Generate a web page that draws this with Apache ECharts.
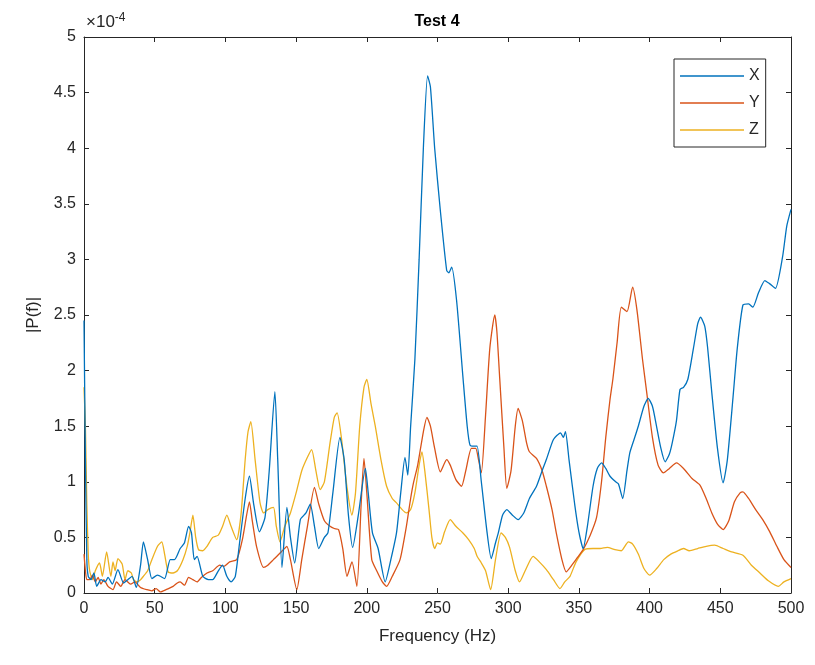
<!DOCTYPE html>
<html>
<head>
<meta charset="utf-8">
<script src="https://cdn.jsdelivr.net/npm/echarts@6/dist/echarts.min.js"></script>
<style>html,body{margin:0;padding:0;background:#fff;}#c{width:815px;height:665px;}</style>
</head>
<body>
<div id="c"></div>
<script>
// Values in units of 1e-4 ([frequency Hz, |P(f)| x 1e4])
const seriesNames = ['X', 'Y', 'Z'];
const xTicks = [0, 50, 100, 150, 200, 250, 300, 350, 400, 450, 500];
const yTicks = [0, 0.5, 1, 1.5, 2, 2.5, 3, 3.5, 4, 4.5, 5];

const dataX = [[0,2.45],[1,1.2],[2,0.3],[3,0.15],[5,0.12],[7,0.18],[9,0.06],[12,0.12],[15,0.1],[17,0.14],[20,0.08],[24,0.21],[28,0.09],[31,0.12],[34,0.15],[37,0.05],[40,0.25],[42,0.46],[45,0.3],[48,0.13],[52,0.16],[57,0.13],[61,0.3],[64,0.3],[68,0.4],[71,0.45],[74,0.6],[76,0.54],[78,0.3],[80,0.33],[84,0.15],[88,0.12],[91,0.12],[95,0.2],[98,0.25],[101,0.15],[104,0.1],[107,0.15],[110,0.45],[114,0.85],[117,1.05],[120,0.8],[124,0.55],[128,0.68],[131,1.1],[135,1.81],[137,1.2],[140,0.23],[143.5,0.77],[146,0.5],[149,0.27],[153,0.66],[157,0.72],[160,0.8],[163,0.6],[166,0.4],[170,0.5],[172.5,0.54],[176,0.9],[181,1.4],[184,1.2],[187,0.7],[190,0.41],[194,0.7],[199,1.12],[201,0.9],[204,0.54],[208,0.4],[213,0.1],[217,0.3],[221,0.54],[224,0.9],[227,1.22],[229,1.06],[231,1.5],[234,2.1],[237,3.0],[240,4.0],[243,4.65],[245,4.55],[248,4.0],[252,3.44],[256.5,2.9],[258,2.88],[260,2.93],[263.5,2.63],[268,1.94],[271,1.5],[273,1.33],[276,1.32],[278,1.32],[281,1.0],[285,0.55],[288,0.31],[291,0.45],[293,0.54],[296,0.7],[299,0.75],[303,0.7],[307,0.66],[311,0.72],[315,0.85],[320,0.96],[324,1.1],[327,1.2],[332,1.38],[337,1.44],[339,1.4],[340.5,1.45],[343,1.2],[347,0.8],[350,0.55],[353,0.4],[356,0.6],[360,0.96],[363,1.12],[366,1.17],[369,1.12],[372,1.05],[376,1.0],[378,0.98],[381,0.85],[384,1.1],[386,1.26],[389,1.38],[392,1.5],[396,1.68],[399,1.75],[402,1.68],[404,1.56],[408,1.3],[411,1.18],[414,1.25],[416,1.35],[419,1.55],[421.5,1.83],[424,1.85],[427,1.92],[431,2.2],[434,2.42],[436,2.48],[439,2.4],[441,2.21],[444,1.8],[448,1.3],[452,0.99],[455,1.2],[459,1.76],[462,2.2],[466,2.59],[470,2.6],[473,2.57],[477,2.7],[481.5,2.81],[485,2.78],[489,2.74],[494,3.02],[497,3.3],[500,3.45]];

const dataY = [[0,0.35],[1,0.2],[2,0.12],[4,0.12],[6,0.16],[8,0.1],[10,0.14],[12,0.08],[14,0.12],[17,0.06],[20.5,0.03],[23,0.1],[26,0.06],[29,0.12],[33,0.08],[36,0.1],[40,0.05],[44.5,0.03],[48,0.02],[51,0.04],[54,0.01],[58,0.03],[63,0.06],[66,0.09],[68,0.1],[71,0.07],[74,0.14],[77,0.12],[80,0.1],[83,0.14],[87,0.18],[91,0.2],[96,0.25],[99,0.24],[103,0.28],[108,0.3],[112,0.48],[115,0.7],[117,0.82],[119,0.65],[122,0.42],[127,0.23],[130,0.25],[134,0.3],[138,0.35],[141,0.39],[143.5,0.42],[146,0.3],[150.5,0.03],[154,0.3],[158,0.6],[163,0.95],[166,0.8],[170,0.65],[174,0.6],[177,0.58],[180,0.57],[183,0.4],[186,0.15],[189.5,0.28],[193,0.06],[196,0.8],[198,1.21],[200,0.9],[203.5,0.3],[207,0.2],[211,0.1],[214,0.06],[218,0.15],[223.5,0.3],[228,0.6],[231,0.85],[233,0.99],[236,1.15],[240,1.45],[242.5,1.58],[245,1.5],[248,1.3],[252,1.09],[256.5,1.2],[259,1.15],[263,1.02],[267,0.96],[270,1.1],[274,1.3],[277,1.3],[279,1.2],[281,1.08],[284,1.6],[287,2.2],[290.5,2.5],[292,2.35],[294,1.93],[297,1.3],[299,0.94],[302,1.1],[305,1.5],[307,1.66],[310,1.55],[313,1.35],[315,1.27],[320,1.21],[324,1.1],[327,0.96],[331,0.75],[334,0.54],[338,0.3],[341,0.19],[345,0.25],[349,0.32],[353,0.39],[358,0.52],[362.5,0.68],[366,1.0],[369,1.4],[372,1.74],[374,1.92],[377,2.25],[380,2.57],[384,2.53],[388,2.75],[391,2.55],[395,2.1],[398,1.8],[402,1.4],[406,1.15],[409.7,1.08],[414,1.12],[419,1.17],[424,1.12],[430,1.03],[435.6,0.97],[440,0.85],[444,0.72],[448,0.62],[452,0.57],[456,0.65],[460,0.82],[464,0.9],[466,0.91],[470,0.85],[475,0.75],[480,0.66],[485,0.55],[490,0.42],[495,0.3],[500,0.23]];

const dataZ = [[0,1.85],[1,1.5],[2,0.8],[3,0.35],[4,0.2],[6,0.12],[8,0.2],[11,0.27],[13,0.15],[16,0.37],[19,0.15],[20.5,0.28],[22,0.2],[24,0.31],[27,0.26],[29,0.12],[31,0.2],[33.5,0.18],[35,0.12],[37.5,0.1],[40,0.12],[42,0.15],[45,0.2],[48,0.3],[52,0.42],[55,0.46],[57,0.35],[59.5,0.19],[63,0.18],[66,0.2],[70,0.3],[73,0.42],[75,0.55],[77,0.7],[79,0.5],[81,0.39],[84,0.38],[87,0.42],[91,0.5],[95,0.52],[98,0.6],[101,0.7],[104,0.6],[108,0.48],[111,0.7],[114,1.2],[116,1.45],[118,1.54],[121,1.2],[124.5,0.81],[127,0.72],[130,0.75],[134,0.77],[136,0.6],[138.6,0.46],[142,0.6],[146,0.72],[150,0.9],[154,1.1],[158,1.22],[161,1.29],[164,1.1],[167,0.93],[170,1.0],[174,1.35],[177,1.58],[179,1.62],[182,1.4],[186,0.95],[189.5,0.7],[192,0.9],[195,1.5],[198,1.85],[200,1.92],[203,1.7],[206,1.5],[210,1.2],[214,0.96],[218,0.85],[221,0.81],[225,0.75],[228,0.72],[231,0.75],[234,0.9],[237,1.15],[239,1.27],[241,1.1],[244,0.75],[246,0.5],[248,0.4],[250,0.45],[252,0.44],[255,0.55],[259,0.66],[263,0.6],[268,0.54],[272,0.48],[276,0.4],[278,0.33],[281,0.27],[284,0.2],[287.6,0.03],[291,0.3],[295,0.54],[298,0.5],[301,0.41],[305,0.2],[308,0.1],[312,0.2],[317.6,0.33],[322,0.28],[327,0.21],[332,0.12],[336.6,0.04],[340,0.1],[343.7,0.15],[348,0.28],[354,0.39],[360,0.4],[365,0.4],[370,0.41],[375.5,0.39],[380,0.38],[385,0.46],[388,0.44],[392,0.35],[396,0.22],[400,0.16],[405,0.22],[410,0.3],[415,0.35],[420,0.38],[424,0.4],[428,0.38],[434,0.4],[440,0.42],[446,0.43],[452,0.4],[458,0.37],[466,0.34],[472,0.25],[478,0.18],[484,0.11],[491,0.06],[495,0.1],[500,0.13]];

const colors = ['#0072BD', '#D95319', '#EDB120'];
const axisColor = '#262626';
const font = 'Liberation Sans, Arial, sans-serif';

const chart = echarts.init(document.getElementById('c'), null, {renderer: 'canvas'});

function axisBase(show) {
  return {
    axisLine: {show: true, onZero: false, lineStyle: {color: axisColor, width: 1}},
    axisTick: {show: true, inside: true, length: 5, lineStyle: {color: axisColor}},
    splitLine: {show: false},
    axisLabel: {show: show, color: axisColor, fontFamily: font, fontSize: 16}
  };
}

const xMin = xTicks[0], xMax = xTicks[xTicks.length - 1], xInt = xTicks[1] - xTicks[0];
const yMin = yTicks[0], yMax = yTicks[yTicks.length - 1], yInt = yTicks[1] - yTicks[0];

const option = {
  animation: false,
  backgroundColor: '#fff',
  color: colors,
  grid: {left: 84, right: 24, top: 37, bottom: 72, containLabel: false},
  xAxis: [
    Object.assign(axisBase(true), {
      type: 'value', min: xMin, max: xMax, interval: xInt, position: 'bottom',
      name: 'Frequency (Hz)', nameLocation: 'middle', nameGap: 35,
      nameTextStyle: {color: axisColor, fontFamily: font, fontSize: 17}
    }),
    Object.assign(axisBase(false), {
      type: 'value', min: xMin, max: xMax, interval: xInt, position: 'top'
    })
  ],
  yAxis: [
    Object.assign(axisBase(true), {
      type: 'value', min: yMin, max: yMax, interval: yInt, position: 'left',
      name: '|P(f)|', nameLocation: 'middle', nameGap: 42,
      nameTextStyle: {color: axisColor, fontFamily: font, fontSize: 17}
    }),
    Object.assign(axisBase(false), {
      type: 'value', min: yMin, max: yMax, interval: yInt, position: 'right'
    })
  ],
  legend: {
    orient: 'vertical',
    left: 674, top: 59,
    padding: [9, 6, 9, 6],
    icon: 'rect',
    itemWidth: 64, itemHeight: 1.5, itemGap: 11,
    backgroundColor: '#fff',
    borderColor: axisColor, borderWidth: 1, borderRadius: 0,
    textStyle: {color: axisColor, fontFamily: font, fontSize: 16},
    data: seriesNames
  },
  graphic: [
    {type: 'text', x: 437, y: 22,
     style: {text: 'Test 4', fill: '#000', font: 'bold 16px Liberation Sans, Arial, sans-serif',
              textAlign: 'center', textVerticalAlign: 'middle'}},
    {type: 'text', x: 86, y: 12,
     style: {rich: {a: {fontSize: 17, fontFamily: font, fill: axisColor},
                    b: {fontSize: 12, fontFamily: font, fill: axisColor, verticalAlign: 'top', padding: [0,0,8,0]}},
             text: '{a|×10}{b|-4}'}}
  ],
  series: [
    {name: seriesNames[0], type: 'line', data: dataX, symbol: 'none', smooth: 0.2, lineStyle: {width: 1.3}, xAxisIndex: 0, yAxisIndex: 0, z: 3},
    {name: seriesNames[1], type: 'line', data: dataY, symbol: 'none', smooth: 0.2, lineStyle: {width: 1.3}, xAxisIndex: 0, yAxisIndex: 0, z: 2},
    {name: seriesNames[2], type: 'line', data: dataZ, symbol: 'none', smooth: 0.2, lineStyle: {width: 1.3}, xAxisIndex: 0, yAxisIndex: 0, z: 1}
  ]
};
chart.setOption(option);
</script>
</body>
</html>
